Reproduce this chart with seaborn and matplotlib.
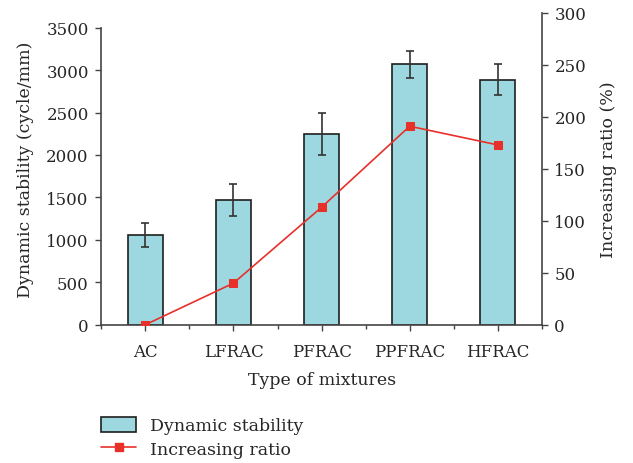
import numpy as np
import pandas as pd
import matplotlib
matplotlib.use("Agg")
import matplotlib.pyplot as plt
import seaborn as sns
from matplotlib.patches import Patch
from matplotlib.lines import Line2D
from matplotlib.ticker import MultipleLocator

categories = ["AC", "LFRAC", "PFRAC", "PPFRAC", "HFRAC"]
stability = [1057, 1469, 2251, 3068, 2887]
stability_err = [143, 193, 248, 159, 185]
ratio = [0, 40, 113, 191, 173]

sns.set_style("ticks")
plt.rcParams['font.family'] = ['DejaVu Serif']
plt.rcParams['font.size'] = 12

fig = plt.figure(figsize=(6.33, 4.64), dpi=100)
ax = fig.add_axes([0.16, 0.298, 0.696, 0.672])

df = pd.DataFrame({"cat": categories, "val": stability})
sns.barplot(data=df, x="cat", y="val", ax=ax, color="#9dd8e0", width=0.4,
            edgecolor="#1e1e1e", linewidth=1.2, saturation=1, errorbar=None)
pos = np.arange(len(categories))
ax.errorbar(pos, stability, yerr=stability_err, fmt="none", ecolor="#333333",
            elinewidth=1.2, capsize=3, capthick=1.2, zorder=5)

left_top = 3500
ax.set_ylim(0, left_top * (311.7 / 297.0))
ax.set_xlim(-0.5, len(categories) - 0.5)
ax.set_yticks(np.arange(0, 3501, 500))
ax.spines['left'].set_bounds(0, left_top)
ax.spines['top'].set_visible(False)
ax.spines['right'].set_visible(False)
ax.xaxis.set_minor_locator(MultipleLocator(1, offset=0.5))
ax.tick_params(axis='y', which='major', direction='out', length=4, width=1, color="#444444", labelsize=12, pad=5)
ax.tick_params(axis='x', which='major', direction='out', length=4, width=1, color="#444444", labelsize=12, pad=9)
ax.tick_params(axis='x', which='minor', direction='out', length=3, width=1, color="#444444")
for s in ['left', 'bottom']:
    ax.spines[s].set_color("#444444")
    ax.spines[s].set_linewidth(1.2)
ax.set_xlabel("Type of mixtures", fontsize=12.5, labelpad=8)
ax.set_ylabel("Dynamic stability (cycle/mm)", fontsize=12.5, labelpad=9)

ax2 = ax.twinx()
sns.lineplot(x=pos, y=ratio, ax=ax2, color="#e8302a", marker="s", markersize=6,
             markeredgecolor="#e8302a", linewidth=1.2, zorder=6)
ax2.set_ylim(0, 300)
ax2.set_xlim(-0.5, len(categories) - 0.5)
ax2.set_yticks(np.arange(0, 301, 50))
for s in ['left', 'top', 'bottom']:
    ax2.spines[s].set_visible(False)
ax2.spines['right'].set_color("#444444")
ax2.spines['right'].set_linewidth(1.2)
ax2.tick_params(axis='y', direction='out', length=4, width=1, color="#444444", labelsize=12, pad=5)
ax2.set_ylabel("Increasing ratio (%)", fontsize=12.5, labelpad=10)

handles = [Patch(facecolor="#9dd8e0", edgecolor="#1e1e1e", linewidth=1.2),
           Line2D([0], [0], color="#e8302a", marker="s", markersize=6, linewidth=1.2)]
fig.legend(handles, ["Dynamic stability", "Increasing ratio"], loc="upper left",
           bbox_to_anchor=(0.16, 0.1), frameon=False, fontsize=12.5,
           handlelength=2.0, handleheight=0.95, handletextpad=0.8,
           labelspacing=0.35, borderaxespad=0, borderpad=0)

fig.savefig("out.png", dpi=100)
